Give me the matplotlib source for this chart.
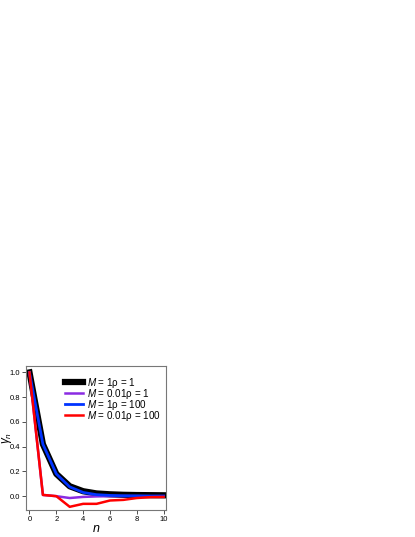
import matplotlib
matplotlib.use("Agg")
import matplotlib.pyplot as plt

plt.rcParams['font.family'] = ['Liberation Sans', 'DejaVu Sans']
plt.rcParams['mathtext.fontset'] = 'custom'
plt.rcParams['mathtext.rm'] = 'Liberation Sans'
plt.rcParams['mathtext.it'] = 'Liberation Sans:italic'

n = [0, 1, 2, 3, 4, 5, 6, 7, 8, 9, 10]
black_vals = [1.0, 0.42, 0.18, 0.08, 0.04, 0.022, 0.015, 0.011, 0.009, 0.008, 0.007]
purple_vals = [1.0, 0.01, 0.0, -0.015, -0.006, -0.002, 0.0, 0.001, 0.001, 0.0, 0.0]
blue_vals = [1.0, 0.42, 0.18, 0.075, 0.03, 0.012, 0.006, 0.003, 0.002, 0.001, 0.001]
red_vals = [1.0, 0.01, 0.0, -0.086, -0.062, -0.062, -0.035, -0.03, -0.015, -0.008, -0.006]
labels = ['$M$ = 1ρ = 1', '$M$ = 0.01ρ = 1',
          '$M$ = 1ρ = 100', '$M$ = 0.01ρ = 100']

fig = plt.figure(figsize=(4.15, 5.37), dpi=100)
ax = fig.add_axes([0.063, 0.05, 0.336, 0.268])

ax.plot(n, black_vals, color='black', lw=4.5, label=labels[0])
ax.plot(n, purple_vals, color='#8a2be2', lw=1.8, label=labels[1])
ax.plot(n, blue_vals, color='#0033ff', lw=2.0, label=labels[2])
ax.plot(n, red_vals, color='#ff0000', lw=1.8, label=labels[3])

ax.set_xlim(-0.25, 10.15)
ax.set_ylim(-0.113, 1.05)
ax.set_xticks([0, 2, 4, 6, 8, 10])
ax.set_yticks([0.0, 0.2, 0.4, 0.6, 0.8, 1.0])
ax.set_yticklabels(['0.0', '0.2', '0.4', '0.6', '0.8', '1.0'])
ax.tick_params(axis='both', labelsize=5.5, direction='out', length=3, width=0.6,
               pad=1.5, colors='#333333', labelcolor='black')
for s in ax.spines.values():
    s.set_color('#777777')
    s.set_linewidth(0.8)

ax.set_xlabel(r'$n$', fontsize=9, labelpad=0)
ax.set_ylabel(r'$\gamma_n$', fontsize=8.5)
ax.yaxis.set_label_coords(-0.09, 0.5)

ax.legend(loc='upper right', frameon=False, fontsize=7.1, handlelength=1.8,
          labelspacing=-0.3, handletextpad=0.45, borderaxespad=0.0, borderpad=0.0,
          bbox_to_anchor=(0.965, 0.935))

fig.savefig('out.png', dpi=100)
